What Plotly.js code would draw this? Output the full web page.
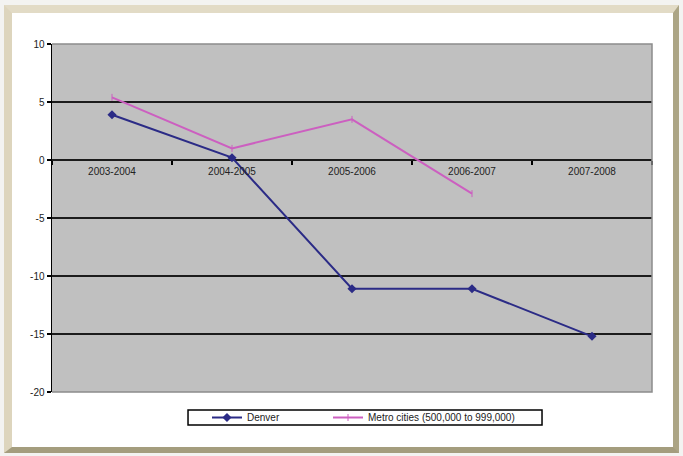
<!DOCTYPE html>
<html>
<head>
<meta charset="utf-8">
<script src="https://cdn.plot.ly/plotly-3.0.1.min.js"></script>
<style>
  html, body { margin: 0; padding: 0; background: #f3f3f1; }
  #frame { position: absolute; left: 4px; top: 5px; width: 661px; height: 434px;
           background: #ffffff; border-left: 8px solid #ddd5bd; border-top: 8px solid #e2dbc6;
           border-right: 6px solid #aca585; border-bottom: 6px solid #a49d7e; }
  #chart { position: absolute; left: 0; top: 0; width: 683px; height: 456px; }
</style>
</head>
<body>
<div id="frame"></div>
<div id="chart"></div>
<script>
const periods = ["2003-2004", "2004-2005", "2005-2006", "2006-2007", "2007-2008"];
const denver = [3.9, 0.2, -11.1, -11.1, -15.2];
const metroCities = [5.4, 1.0, 3.5, -2.9, null];
const seriesNames = ["Denver", "Metro cities (500,000 to 999,000)"];
const yTickValues = [10, 5, 0, -5, -10, -15, -20];
const yTickLabels = ["10", "5", "0", "-5", "-10", "-15", "-20"];

const traces = [
  { x: periods, y: denver, name: seriesNames[0], type: "scatter", mode: "lines+markers",
    legend: "legend",
    line: { color: "#2b2b86", width: 2 },
    marker: { symbol: "diamond", size: 7, color: "#2b2b86" } },
  { x: periods, y: metroCities, name: seriesNames[1], type: "scatter", mode: "lines+markers",
    legend: "legend2",
    line: { color: "#cc5fc0", width: 2 },
    marker: { symbol: "line-ns-open", size: 5, color: "#cc5fc0", line: { color: "#cc5fc0", width: 1 } } }
];

const legendCommon = {
  orientation: "h", xanchor: "left", y: -0.0733, yanchor: "middle",
  bgcolor: "rgba(0,0,0,0)", borderwidth: 0,
  font: { size: 10, color: "#222" }, itemwidth: 30
};

const layout = {
  width: 683, height: 456,
  margin: { l: 52, r: 31, t: 44, b: 64 },
  paper_bgcolor: "rgba(0,0,0,0)",
  plot_bgcolor: "#c0c0c0",
  font: { family: "Liberation Sans, Arial, sans-serif", size: 10, color: "#222" },
  showlegend: true,
  legend: Object.assign({}, legendCommon, { x: 0.2583 }),
  legend2: Object.assign({}, legendCommon, { x: 0.46 }),
  xaxis: {
    type: "category", categoryarray: periods, range: [-0.5, 4.5],
    anchor: "free", position: 2 / 3,
    showline: false,
    ticks: "outside", tickson: "boundaries", ticklen: 4, tickcolor: "#000000", tickwidth: 1.5,
    ticklabelstandoff: 4,
    showgrid: false, tickfont: { size: 10, color: "#222" }, fixedrange: true
  },
  yaxis: {
    range: [-20, 10], tickvals: yTickValues, ticktext: yTickLabels,
    showgrid: true, gridcolor: "#1c1c1c", gridwidth: 1.5,
    zeroline: false,
    showline: true, linecolor: "#000000", linewidth: 1.5,
    ticks: "outside", ticklen: 4, tickcolor: "#000000", tickwidth: 1.5,
    tickfont: { size: 10, color: "#222" }, fixedrange: true
  },
  shapes: [
    { type: "path", xref: "paper", yref: "paper", path: "M0,1 L1,1 L1,0 L0,0",
      line: { color: "#8c8c8c", width: 1.5 }, layer: "above" },
    { type: "rect", xref: "paper", yref: "paper", x0: 0.2267, x1: 0.8167, y0: -0.0517, y1: -0.0948,
      line: { color: "#000000", width: 1.5 }, fillcolor: "#ffffff", layer: "below" }
  ]
};

Plotly.newPlot("chart", traces, layout, { displayModeBar: false, staticPlot: true });
</script>
</body>
</html>
